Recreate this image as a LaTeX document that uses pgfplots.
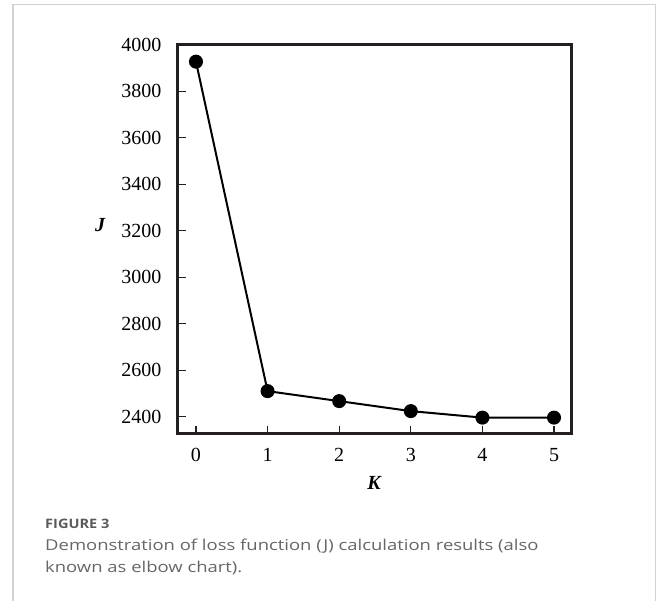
\documentclass[border=0pt]{standalone}
\usepackage{fontspec}
\setmainfont{Liberation Serif}
\newfontfamily\capfont[FakeStretch=1.23]{Open Sans}
\newfontfamily\figfont[FakeStretch=1.12]{Open Sans}
\usepackage{pgfplots}
\pgfplotsset{compat=1.18}
\definecolor{boxcol}{HTML}{231F20}
\definecolor{capgray}{HTML}{666666}
\definecolor{figgray}{HTML}{5A5A5A}
\definecolor{framegray}{HTML}{D2D2D2}

\pgfplotstableread{
K J
0 3927
1 2510
2 2467
3 2424
4 2396
5 2396
}\elbow

\begin{document}
\begin{tikzpicture}[x=1pt,y=1pt]
\useasboundingbox (0,0) rectangle (656,601);
% page frame
\draw[framegray, line width=1.3pt] (13,0) -- (13,596.3) -- (655.3,596.3) -- (655.3,0);

\begin{axis}[
  at={(177.5pt,167pt)}, anchor=south west,
  scale only axis, width=394.2pt, height=389.3pt,
  xmin=-0.258, xmax=5.247, ymin=2325.6, ymax=4000,
  xtick={0,1,2,3,4,5},
  xticklabels={0,1,2,3,4,5},
  ytick={2400,2600,2800,3000,3200,3400,3600,3800,4000},
  yticklabels={2400,2600,2800,3000,3200,3400,3600,3800,4000},
  tick pos=left, tick align=inside,
  major tick length=8pt,
  every tick/.style={boxcol, line width=1.3pt},
  axis line style={boxcol, line width=3pt},
  tick label style={font=\rmfamily\fontsize{20}{24}\selectfont, inner sep=0pt},
  yticklabel style={anchor=east, xshift=-16pt},
  xticklabel style={anchor=north, yshift=-14pt},
  clip=false,
]
\addplot[black, line width=2pt, mark=*, mark size=6pt, mark options={fill=black}] table[x=K, y=J] {\elbow};
\end{axis}

% axis titles
\node[font=\rmfamily\fontsize{20}{24}\selectfont\bfseries\itshape] at (100,376) {J};
\node[font=\rmfamily\fontsize{20}{24}\selectfont\bfseries\itshape] at (374,118) {K};

% caption
\node[anchor=base west, inner sep=0pt, figgray, font=\figfont\bfseries\fontsize{13}{15}\selectfont] at (45,72) {FIGURE 3};
\node[anchor=base west, inner sep=0pt, capgray, font=\capfont\fontsize{15}{18}\selectfont] at (45,50) {Demonstration of loss function (J) calculation results (also};
\node[anchor=base west, inner sep=0pt, capgray, font=\capfont\fontsize{15}{18}\selectfont] at (45,28) {known as elbow chart).};
\end{tikzpicture}
\end{document}
